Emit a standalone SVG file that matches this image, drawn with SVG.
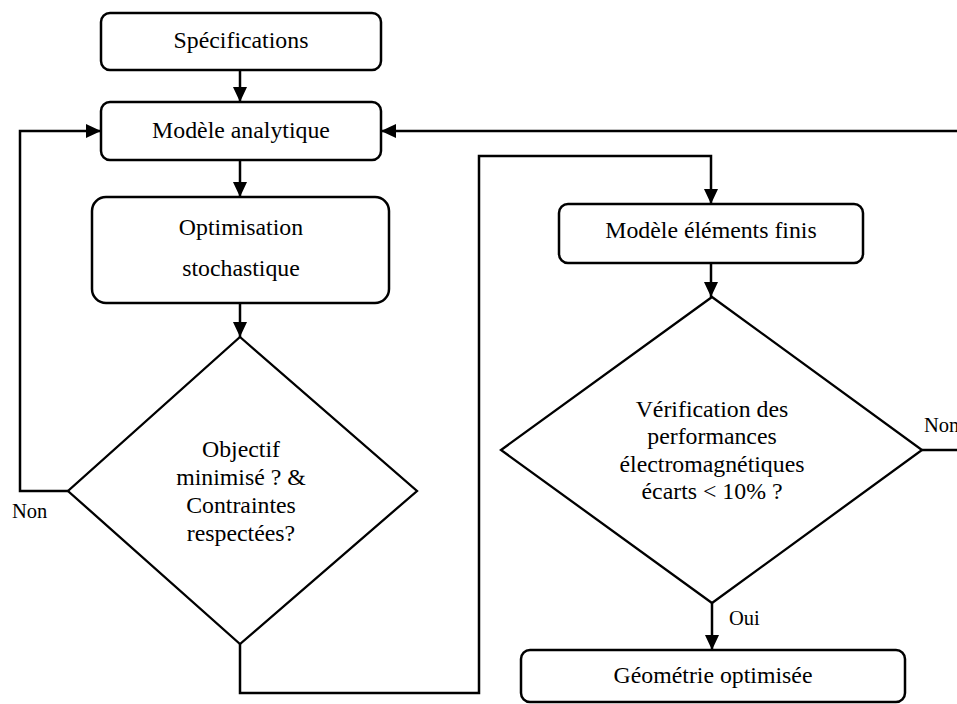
<svg xmlns="http://www.w3.org/2000/svg" width="957" height="704" viewBox="0 0 957 704">
<defs>
<style>
.box{fill:#fff;stroke:#000;stroke-width:2.5}
.dia{fill:#fff;stroke:#000;stroke-width:2.3;stroke-linejoin:miter}
.t{font-family:"Liberation Serif","Times New Roman",serif;font-size:23.8px;fill:#000;text-anchor:middle}
.lbl{font-family:"Liberation Serif","Times New Roman",serif;font-size:20.5px;fill:#000}
.c{fill:none;stroke:#000;stroke-width:2.5}
</style>
<marker id="ah" viewBox="0 0 15 14" refX="15" refY="7" markerWidth="15" markerHeight="14" markerUnits="userSpaceOnUse" orient="auto">
<path d="M0,0 L15,7 L0,14 Z" fill="#000"/>
</marker>
</defs>
<rect width="957" height="704" fill="#fff"/>
<g id="connectors">
<path class="c" d="M240,70 V102" marker-end="url(#ah)"/>
<path class="c" d="M240,160 V197" marker-end="url(#ah)"/>
<path class="c" d="M240,303 V337" marker-end="url(#ah)"/>
<path class="c" d="M68,491 H20 V131 H101" marker-end="url(#ah)"/>
<path class="c" d="M240,644 V693 H479 V156 H711 V204" marker-end="url(#ah)"/>
<path class="c" d="M711,263 V297" marker-end="url(#ah)"/>
<path class="c" d="M922,450 H962 V131 H381" marker-end="url(#ah)"/>
<path class="c" d="M712,603 V650" marker-end="url(#ah)"/>
<text class="lbl" x="12" y="518">Non</text>
<text class="lbl" x="924" y="432">Non</text>
<text class="lbl" x="729" y="625">Oui</text>
</g>
<g id="specifications">
<rect class="box" x="101" y="13" width="280" height="57" rx="9"/>
<text class="t" x="241" y="48">Spécifications</text>
</g>
<g id="modele-analytique">
<rect class="box" x="101" y="102" width="280" height="58" rx="9"/>
<text class="t" x="241" y="138">Modèle analytique</text>
</g>
<g id="optimisation">
<rect class="box" x="92" y="197" width="297" height="106" rx="14"/>
<text class="t" x="241" y="235">Optimisation</text>
<text class="t" x="241" y="276">stochastique</text>
</g>
<g id="decision-objectif">
<polygon class="dia" points="240,337 417,491 240,644 68,491"/>
<text class="t" x="241" y="457">Objectif</text>
<text class="t" x="241" y="485">minimisé ? &amp;</text>
<text class="t" x="241" y="513">Contraintes</text>
<text class="t" x="241" y="541">respectées?</text>
</g>
<g id="modele-elements-finis">
<rect class="box" x="559" y="204" width="304" height="59" rx="9"/>
<text class="t" x="711" y="238">Modèle éléments finis</text>
</g>
<g id="decision-verification">
<polygon class="dia" points="712,297 922,450 712,603 501,450"/>
<text class="t" x="712" y="417">Vérification des</text>
<text class="t" x="712" y="444">performances</text>
<text class="t" x="712" y="472">électromagnétiques</text>
<text class="t" x="712" y="499">écarts &lt; 10% ?</text>
</g>
<g id="geometrie-optimisee">
<rect class="box" x="521" y="650" width="384" height="52" rx="9"/>
<text class="t" x="713" y="683">Géométrie optimisée</text>
</g>
</svg>
